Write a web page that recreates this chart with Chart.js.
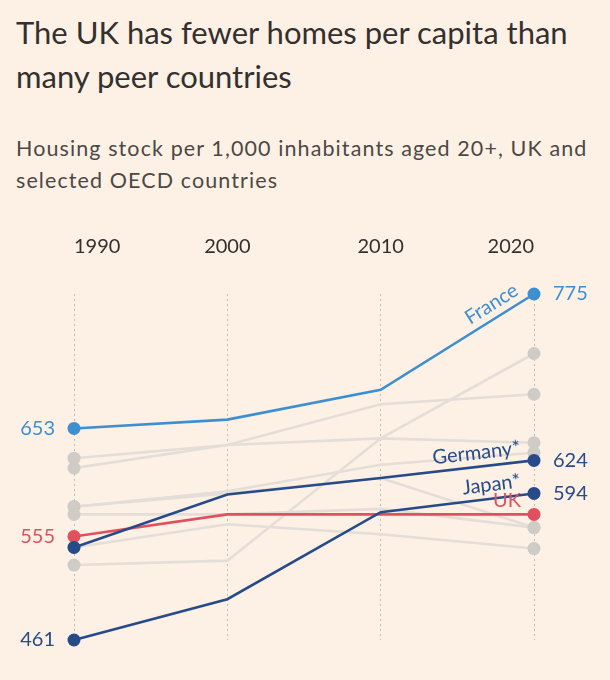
<!DOCTYPE html>
<html>
<head>
<meta charset="utf-8">
<script src="https://cdn.jsdelivr.net/npm/chart.js@4.4.1/dist/chart.umd.min.js"></script>
<style>
  body { margin: 0; background: #fdf1e6; width: 610px; height: 680px; overflow: hidden; position: relative; font-family: Lato, "Noto Sans", sans-serif; }
  #title { position: absolute; left: 16px; top: 10px; width: 590px; font-size: 31px; line-height: 44px; color: #33302e; }
  #subtitle { position: absolute; left: 16px; top: 132px; width: 580px; font-size: 21.5px; letter-spacing: 1.1px; line-height: 32px; color: #4d4845; }
  #wrap { position: absolute; left: 0; top: 191px; width: 610px; height: 489px; }
</style>
</head>
<body>
<div id="title">The UK has fewer homes per capita than many peer countries</div>
<div id="subtitle">Housing stock per 1,000 inhabitants aged 20+, UK and selected OECD countries</div>
<div id="wrap"><canvas id="chart"></canvas></div>
<script>
// -- data --
const years = [1990, 2000, 2010, 2020]

const france = [653, 661, 688, 775]
const germany = [545, 593, 608, 624]
const japan = [461, 498, 577, 594]
const uk = [555, 575, 575, 575]

// the other OECD countries, drawn in grey without labels
const others = [
    [626, 638, 675, 684],
    [617, 638, 644, 640],
    [582, 596, 620, 631],
    [582, 594, 608, 563],
    [575, 575, 580, 563],
    [545, 566, 557, 544],
    [529, 533, 644, 721]
]

const lightBlue = '#3d8fd1'
const darkBlue = '#264b88'
const red = '#e0505e'
const grey = '#e4ddd8'
const greyDot = '#cfcbc7'

function toPoints (arr) {
    return arr.map((v, i) => ({x: years[i], y: v}))
}

function makeDataset (arr, colour, dotColour, order) {
    return {
        data: toPoints(arr),
        borderColor: colour,
        backgroundColor: dotColour,
        borderWidth: 2.6,
        pointRadius: [6.5, 0, 0, 6.5],
        pointBorderWidth: 0,
        pointHoverRadius: 0,
        tension: 0,
        clip: false,
        order: order
    }
}

const datasets = []
datasets.push(makeDataset(france, lightBlue, lightBlue, 1))
datasets.push(makeDataset(germany, darkBlue, darkBlue, 2))
datasets.push(makeDataset(japan, darkBlue, darkBlue, 3))
datasets.push(makeDataset(uk, red, red, 4))
for (let row of others) {
    datasets.push(makeDataset(row, grey, greyDot, 10))
}

// labels at the ends of the coloured lines
const fontFamily = 'Lato, "Noto Sans", sans-serif'
const endLabels = {
    id: 'endLabels',
    afterDatasetsDraw (chart) {
        const ctx = chart.ctx
        const xs = chart.scales.x
        const ys = chart.scales.y
        const last = years.length - 1
        ctx.save()
        ctx.font = '20px ' + fontFamily
        ctx.textBaseline = 'middle'

        // start values on the left
        ctx.textAlign = 'right'
        const xl = xs.getPixelForValue(years[0]) - 19
        ctx.fillStyle = lightBlue
        ctx.fillText(france[0], xl, ys.getPixelForValue(france[0]))
        ctx.fillStyle = red
        ctx.fillText(uk[0], xl, ys.getPixelForValue(uk[0]))
        ctx.fillStyle = darkBlue
        ctx.fillText(japan[0], xl, ys.getPixelForValue(japan[0]))

        // end values on the right
        ctx.textAlign = 'left'
        const xr = xs.getPixelForValue(years[last]) + 19
        ctx.fillStyle = lightBlue
        ctx.fillText(france[last], xr, ys.getPixelForValue(france[last]))
        ctx.fillStyle = darkBlue
        ctx.fillText(germany[last], xr, ys.getPixelForValue(germany[last]))
        ctx.fillText(japan[last], xr, ys.getPixelForValue(japan[last]))

        // country names sitting on their lines
        function nameOnLine (text, arr, colour, dx, dy) {
            const x1 = xs.getPixelForValue(years[last - 1])
            const y1 = ys.getPixelForValue(arr[last - 1])
            const x2 = xs.getPixelForValue(years[last])
            const y2 = ys.getPixelForValue(arr[last])
            const angle = Math.atan2(y2 - y1, x2 - x1)
            ctx.save()
            ctx.translate(x2, y2)
            ctx.rotate(angle)
            ctx.textAlign = 'right'
            ctx.textBaseline = 'bottom'
            ctx.fillStyle = colour
            ctx.fillText(text, dx, dy)
            ctx.restore()
        }
        ctx.font = '20px ' + fontFamily
        nameOnLine('France', france, lightBlue, -12, -4)
        nameOnLine('Germany*', germany, darkBlue, -12, -4)
        nameOnLine('Japan*', japan, darkBlue, -12, -4)
        nameOnLine('UK', uk, red, -13, -4)
        ctx.restore()
    }
}

new Chart(document.getElementById('chart'), {
    type: 'line',
    data: { datasets: datasets },
    plugins: [endLabels],
    options: {
        responsive: true,
        maintainAspectRatio: false,
        animation: false,
        events: [],
        layout: { padding: { left: 74, right: 76, top: 9, bottom: 40 } },
        plugins: { legend: { display: false }, tooltip: { enabled: false } },
        scales: {
            x: {
                type: 'linear',
                position: 'top',
                min: 1990,
                max: 2020,
                border: { display: false, dash: [2, 3] },
                grid: { color: '#c9bdb3', drawTicks: false },
                ticks: {
                    stepSize: 10,
                    padding: 35,
                    align: 'inner',
                    color: '#33302e',
                    font: { family: fontFamily, size: 20 },
                    callback: v => String(v)
                }
            },
            y: {
                display: false,
                min: 461,
                max: 775
            }
        }
    }
})
</script>
</body>
</html>
